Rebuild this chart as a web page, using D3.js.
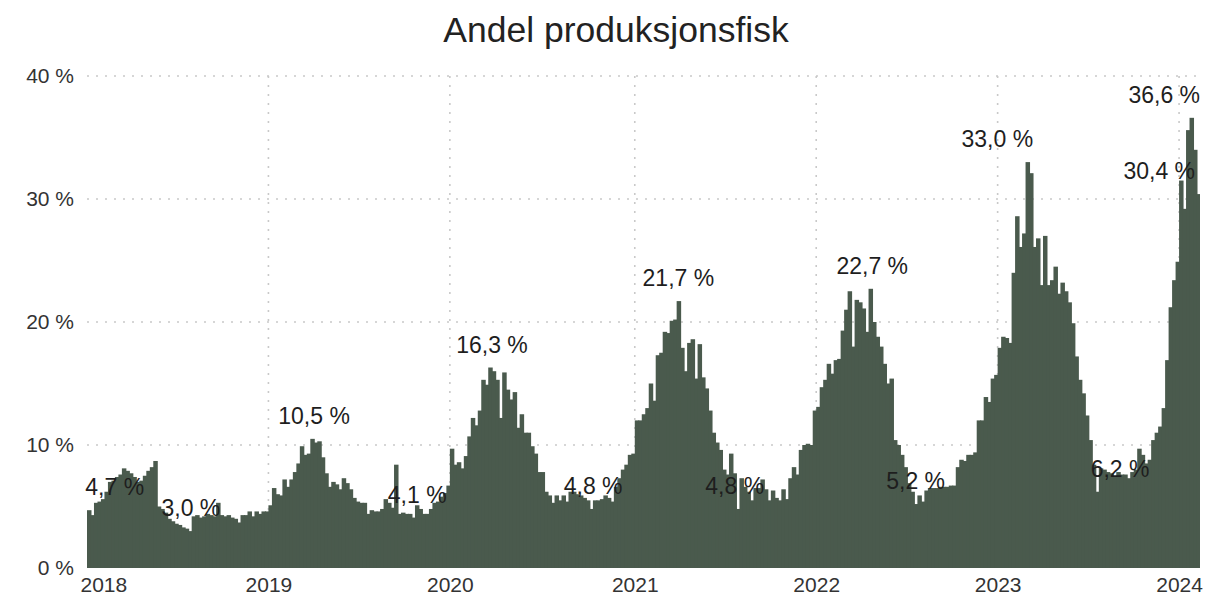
<!DOCTYPE html>
<html>
<head>
<meta charset="utf-8">
<script src="https://cdn.jsdelivr.net/npm/d3@7"></script>
<style>
body { margin: 0; background: #fff; }
text { font-family: "Liberation Sans", Arial, sans-serif; }
</style>
</head>
<body>
<svg id="chart" width="1205" height="603"></svg>
<script>
const years = [2018, 2019, 2020, 2021, 2022, 2023, 2024]

// weekly share (%)
const v2018 = [4.7, 4.3, 5.3, 5.4, 5.6, 6.2, 7.0, 7.1, 7.4, 7.6, 8.1, 7.9, 7.7, 7.4, 7.0, 7.1, 7.5, 7.9, 8.2, 8.7,
    5.0, 4.8, 4.5, 4.0, 3.8, 3.6, 3.5, 3.3, 3.2, 3.0, 4.2, 4.3, 4.1, 4.2, 4.4, 4.3, 4.2, 5.3, 4.3, 4.2,
    4.3, 4.1, 4.0, 3.7, 4.3, 4.3, 4.6, 4.2, 4.6, 4.4, 4.6, 4.6]
const v2019 = [5.1, 6.5, 6.0, 5.9, 7.2, 6.6, 7.2, 7.8, 8.5, 9.9, 9.2, 9.3, 10.5, 10.2, 10.3, 9.0, 7.7, 6.6, 7.0, 6.8,
    6.4, 7.3, 6.9, 6.4, 5.7, 5.4, 5.3, 5.3, 4.4, 4.7, 4.6, 4.6, 4.8, 5.6, 5.3, 4.9, 8.4, 4.4, 4.5, 4.4,
    4.4, 4.1, 5.1, 4.8, 4.4, 4.4, 4.8, 5.3, 5.4, 5.8, 6.1, 6.7]
const v2020 = [9.7, 8.4, 8.6, 8.1, 9.1, 10.7, 12.2, 11.6, 12.8, 15.3, 14.9, 16.3, 16.0, 15.3, 12.2, 15.9, 14.5, 13.7, 14.3, 11.4,
    12.5, 11.0, 11.0, 9.9, 9.3, 7.8, 7.8, 6.2, 5.9, 5.3, 5.9, 5.5, 5.9, 5.4, 6.2, 6.2, 6.0, 5.9, 5.7, 5.5,
    4.8, 5.5, 5.5, 5.6, 5.9, 5.7, 5.4, 6.6, 7.3, 8.0, 8.4, 9.2, 9.3]
const v2021 = [12.0, 12.0, 12.5, 13.0, 15.0, 13.6, 17.3, 17.5, 19.2, 19.1, 20.1, 20.2, 21.7, 17.9, 16.0, 18.3, 18.6, 15.4, 18.2, 15.5,
    14.6, 12.8, 11.0, 10.2, 9.6, 8.0, 7.6, 9.3, 7.7, 4.8, 7.3, 6.6, 6.2, 5.5, 6.5, 6.5, 7.2, 6.4, 5.5, 6.3,
    5.7, 5.5, 6.4, 5.6, 7.3, 8.2, 7.6, 9.6, 10.0, 10.1, 10.0, 12.8]
const v2022 = [13.1, 14.7, 15.3, 16.6, 15.8, 16.9, 17.0, 19.3, 21.0, 22.5, 18.0, 21.8, 21.6, 21.1, 19.2, 22.7, 20.0, 18.8, 18.0, 16.6,
    15.0, 15.4, 10.4, 10.0, 9.2, 8.2, 6.9, 6.2, 5.2, 5.9, 5.4, 6.3, 6.5, 6.5, 6.5, 6.6, 6.6, 6.6, 6.7, 6.7,
    8.2, 8.8, 8.7, 9.2, 9.2, 9.4, 12.0, 12.0, 13.9, 13.5, 15.4, 15.7]
const v2023 = [17.9, 18.8, 18.7, 18.3, 24.0, 28.6, 26.1, 27.2, 33.0, 32.1, 26.1, 26.8, 23.0, 27.0, 23.0, 23.4, 24.5, 22.3, 23.2, 22.5,
    21.6, 19.9, 17.2, 15.3, 14.2, 12.4, 10.4, 8.4, 6.2, 8.1, 8.0, 7.8, 7.7, 7.4, 7.8, 7.6, 7.6, 7.3, 7.8, 8.0,
    9.7, 9.2, 8.5, 8.8, 10.4, 11.0, 11.5, 13.0, 16.9, 21.2, 23.4, 24.9]
const v2024 = [31.5, 29.2, 35.6, 36.6, 34.0, 30.4]

const yTicks = [0, 10, 20, 30, 40]

// labelled weeks: year + week index
const labelYear = [2018, 2018, 2019, 2019, 2020, 2020, 2021, 2021, 2022, 2022, 2023, 2023, 2024, 2024]
const labelWeek = [0, 29, 12, 41, 11, 40, 12, 29, 15, 28, 8, 28, 3, 5]
// label nudges in px (layout, not data)
const labelDx = [26, 1, 2, 4, 2, 2, 0, -3, 2, 0, -30, 23, -27, -39]

const series = [v2018, v2019, v2020, v2021, v2022, v2023, v2024]
let data = []
let yearStart = []
years.forEach((yr, k) => {
    yearStart.push(data.length)
    series[k].forEach((v, w) => data.push({ year: yr, week: w, value: v, i: data.length }))
})

const svg = d3.select('#chart')
const plotL = 87, plotR = 1200, plotT = 76, plotB = 568

const x = d3.scaleLinear().domain([0, data.length]).range([plotL, plotR])
const y = d3.scaleLinear().domain([0, 40]).range([plotB, plotT])
const fmt = v => d3.format('.1f')(v).replace('.', ',') + ' %'

// title
svg.append('text')
    .attr('x', 616)
    .attr('y', 42)
    .attr('text-anchor', 'middle')
    .attr('font-size', 35.5)
    .attr('fill', '#222')
    .text('Andel produksjonsfisk')

// dotted grid
const grid = svg.append('g')
    .attr('stroke', '#c9c9c9')
    .attr('stroke-width', 1.6)
    .attr('stroke-dasharray', '2 7')

grid.selectAll('.hg')
    .data(yTicks.filter(d => d > 0))
    .join('line')
    .attr('class', 'hg')
    .attr('x1', plotL)
    .attr('x2', plotR)
    .attr('y1', d => y(d))
    .attr('y2', d => y(d))

grid.selectAll('.vg')
    .data(yearStart.slice(1))
    .join('line')
    .attr('class', 'vg')
    .attr('x1', d => x(d))
    .attr('x2', d => x(d))
    .attr('y1', plotT)
    .attr('y2', plotB)

// bars (slight overlap so no seams show)
const bw = x(1) - x(0)
svg.append('g')
    .attr('fill', '#4a5a4d')
    .selectAll('rect')
    .data(data)
    .join('rect')
    .attr('x', d => x(d.i))
    .attr('y', d => y(d.value))
    .attr('width', (d, k) => k === data.length - 1 ? bw : bw + 1)
    .attr('height', d => y(0) - y(d.value))

// y axis
svg.append('g')
    .attr('transform', `translate(${plotL},0)`)
    .call(d3.axisLeft(y).tickValues(yTicks).tickFormat(d => d + ' %').tickSize(0).tickPadding(13))
    .call(g => g.select('.domain').remove())
    .call(g => g.selectAll('text')
        .attr('font-size', 21)
        .attr('fill', '#333')
        .style('font-family', '"Liberation Sans", Arial, sans-serif'))

// x axis (years)
svg.append('g')
    .attr('transform', `translate(0,${plotB})`)
    .call(d3.axisBottom(x).tickValues(yearStart).tickFormat((d, k) => years[k]).tickSize(0).tickPadding(9))
    .call(g => g.select('.domain').remove())
    .call(g => g.selectAll('text')
        .attr('font-size', 21)
        .attr('fill', '#333')
        .style('font-family', '"Liberation Sans", Arial, sans-serif'))
    .call(g => g.select('.tick:first-of-type text').attr('text-anchor', 'start').attr('x', -7))

// data labels
const labels = labelYear.map((yr, k) => data.find(d => d.year === yr && d.week === labelWeek[k]))
svg.append('g')
    .selectAll('text')
    .data(labels)
    .join('text')
    .attr('x', (d, k) => x(d.i) + bw / 2 + labelDx[k])
    .attr('y', d => y(d.value) - 15)
    .attr('text-anchor', 'middle')
    .attr('font-size', 23)
    .attr('fill', '#1e1e1e')
    .text(d => fmt(d.value))
</script>
</body>
</html>
